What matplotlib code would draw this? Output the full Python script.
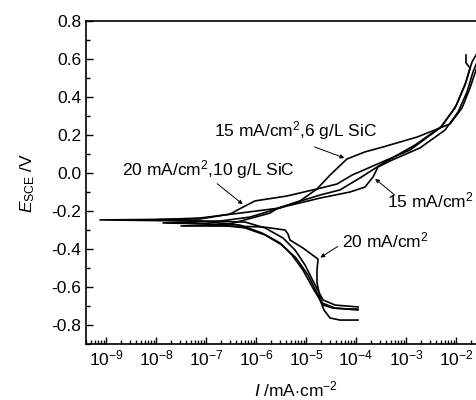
import numpy as np
import matplotlib
matplotlib.use('Agg')
import matplotlib.pyplot as plt
from matplotlib.ticker import FixedLocator, LogLocator, NullFormatter, MultipleLocator

plt.rcParams['font.family'] = ['Liberation Sans', 'DejaVu Sans']
plt.rcParams['mathtext.fontset'] = 'custom'
plt.rcParams['mathtext.rm'] = 'Liberation Sans'
plt.rcParams['mathtext.it'] = 'Liberation Sans:italic'
plt.rcParams['mathtext.bf'] = 'Liberation Sans:bold'
plt.rcParams['axes.unicode_minus'] = False

# polarization curves: log10(I / mA cm^-2) and E (V vs SCE)
# 20 mA/cm2, 10 g/L SiC
logi_a = [-3.96, -4.42, -4.66, -4.82, -5.02, -5.22, -5.46, -5.82, -6.22, -7.12, -9.12,
          -7.12, -6.52, -6.22, -6.02, -5.38, -4.78, -4.38, -4.08, -3.52, -2.92, -2.32,
          -2.02, -1.82, -1.72, -1.80, -1.80]
e_a = [-0.705, -0.695, -0.668, -0.589, -0.484, -0.405, -0.342, -0.289, -0.258, -0.253, -0.247,
       -0.242, -0.216, -0.174, -0.147, -0.121, -0.084, -0.058, -0.011, 0.053, 0.121, 0.237,
       0.342, 0.463, 0.553, 0.579, 0.621]

# 15 mA/cm2, 6 g/L SiC
logi_b = [-3.96, -4.42, -4.68, -4.84, -5.06, -5.28, -5.52, -5.88, -6.32, -7.12, -7.96,
          -7.12, -6.32, -5.52, -5.12, -4.78, -4.52, -4.18, -3.82, -3.46, -2.78, -2.12,
          -1.88, -1.72, -1.60, -1.42]
e_b = [-0.721, -0.711, -0.684, -0.616, -0.511, -0.432, -0.368, -0.316, -0.274, -0.253, -0.245,
       -0.237, -0.211, -0.184, -0.147, -0.084, -0.011, 0.074, 0.111, 0.137, 0.189, 0.258,
       0.342, 0.447, 0.542, 0.647]

# 15 mA/cm2
logi_c = [-3.96, -4.32, -4.52, -4.64, -4.76, -4.96, -5.20, -5.48, -5.82, -6.22, -6.92, -7.86,
          -6.72, -6.12, -5.46, -4.72, -4.12, -3.82, -3.66, -3.56, -3.28, -2.72, -2.22,
          -1.96, -1.78, -1.66, -1.56, -1.36]
e_c = [-0.774, -0.774, -0.763, -0.721, -0.642, -0.537, -0.447, -0.379, -0.326, -0.289, -0.268, -0.263,
       -0.253, -0.232, -0.179, -0.132, -0.100, -0.074, -0.021, 0.032, 0.068, 0.132, 0.226,
       0.321, 0.426, 0.532, 0.595, 0.674]

# 20 mA/cm2
logi_d = [-3.96, -4.12, -4.46, -4.66, -4.72, -4.78, -4.78, -4.76, -5.06, -5.32, -5.36, -5.42,
          -5.86, -6.52, -7.50,
          -6.52, -5.72, -5.56, -4.72, -4.32, -3.92, -3.42, -2.82, -2.28, -2.00, -1.80,
          -1.68, -1.52]
e_d = [-0.716, -0.716, -0.711, -0.695, -0.653, -0.579, -0.511, -0.453, -0.395, -0.353, -0.321, -0.300,
       -0.284, -0.279, -0.279,
       -0.268, -0.211, -0.184, -0.116, -0.089, -0.026, 0.058, 0.147, 0.247, 0.353, 0.479,
       0.584, 0.658]

x_ticks = [1e-9, 1e-8, 1e-7, 1e-6, 1e-5, 1e-4, 1e-3, 1e-2]
y_ticks = [-0.8, -0.6, -0.4, -0.2, 0.0, 0.2, 0.4, 0.6, 0.8]
y_labels = ['-0.8', '-0.6', '-0.4', '-0.2', '0.0', '0.2', '0.4', '0.6', '0.8']

fig = plt.figure(figsize=(4.76, 4.0), dpi=100)
ax = fig.add_axes([86/476, 56/400, 420/476, 323/400])

for li, e in [(logi_a, e_a), (logi_b, e_b), (logi_c, e_c), (logi_d, e_d)]:
    ax.plot(10**np.array(li), e, color='k', lw=1.2)

ax.set_xscale('log')
ax.set_xlim(10**-9.4, 10**-1)
ax.set_ylim(-0.9, 0.8)
ax.xaxis.set_major_locator(FixedLocator(x_ticks))
ax.xaxis.set_minor_locator(LogLocator(base=10, subs=np.arange(2, 10), numticks=200))
ax.xaxis.set_minor_formatter(NullFormatter())
ax.set_yticks(y_ticks)
ax.set_yticklabels(y_labels)
ax.yaxis.set_minor_locator(MultipleLocator(0.1))
ax.tick_params(which='both', direction='in', top=False, right=False, labelsize=12.5, width=1)
ax.tick_params(which='major', length=5)
ax.tick_params(which='minor', length=3)
for s in ax.spines.values():
    s.set_linewidth(1.2)

ax.set_xlabel(r'$I$ /mA$\cdot$cm$^{-2}$', fontsize=12.5, labelpad=8)
ax.set_ylabel(r'$E_{\mathrm{SCE}}$ /V', fontsize=12.5, labelpad=10)

arrow = dict(arrowstyle='-|>', color='k', lw=0.7, mutation_scale=6)
ax.annotate('', xy=(10**-6.22, -0.174), xytext=(10**-6.82, -0.047), arrowprops=arrow)
ax.text(10**-8.68, 0.016, r'20 mA/cm$^2$,10 g/L SiC', fontsize=12.5, ha='left', va='center')
ax.annotate('', xy=(10**-4.18, 0.074), xytext=(10**-4.88, 0.142), arrowprops=arrow)
ax.text(10**-3.58, 0.221, r'15 mA/cm$^2$,6 g/L SiC', fontsize=12.5, ha='right', va='center')
ax.annotate('', xy=(10**-3.66, -0.021), xytext=(10**-3.18, -0.126), arrowprops=arrow)
ax.text(10**-3.38, -0.147, r'15 mA/cm$^2$', fontsize=12.5, ha='left', va='center')
ax.annotate('', xy=(10**-4.76, -0.453), xytext=(10**-4.32, -0.379), arrowprops=arrow)
ax.text(10**-4.28, -0.353, r'20 mA/cm$^2$', fontsize=12.5, ha='left', va='center')

fig.savefig('out.png', dpi=100)
